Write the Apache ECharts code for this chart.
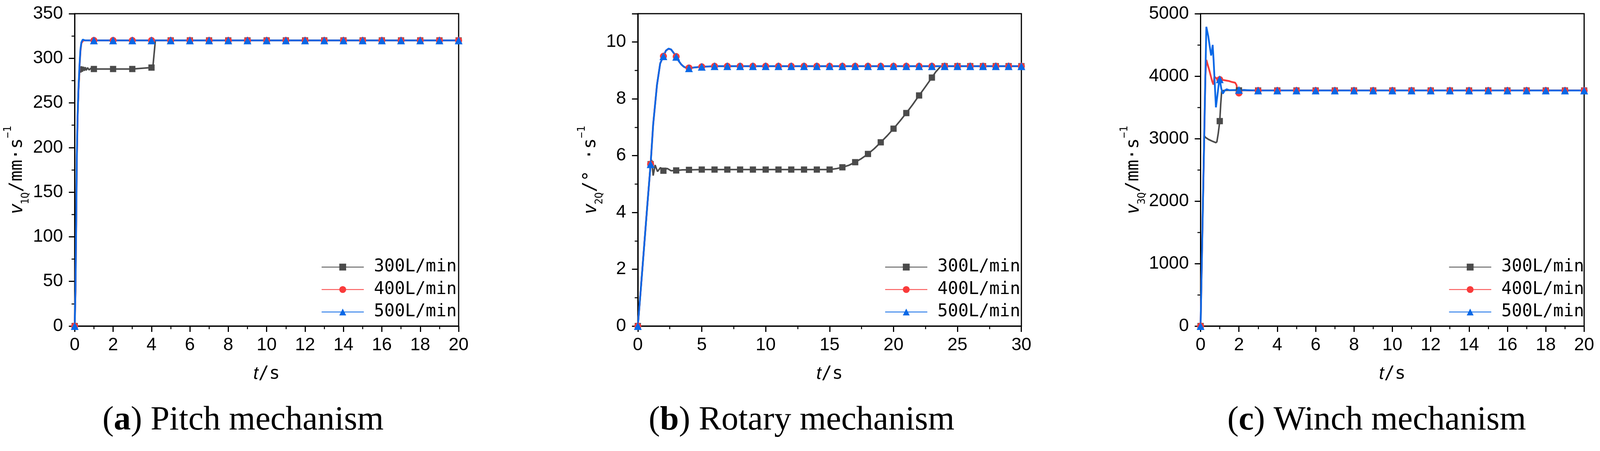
<!DOCTYPE html>
<html>
<head>
<meta charset="utf-8">
<script src="https://cdn.jsdelivr.net/npm/echarts@6/dist/echarts.min.js"></script>
<style>
html, body { margin: 0; padding: 0; background: #fff; overflow: hidden; }
#chart { width: 100vw; height: 1155px; }
</style>
</head>
<body>
<div id="chart"></div>
<script>
var flowNames = ['300L/min', '400L/min', '500L/min'];

// (a) pitch mechanism
var tA300 = [0, 0.04, 0.08, 0.11, 0.15, 0.2, 0.25, 0.28, 0.32, 0.36, 0.4, 0.45, 0.5, 0.55, 0.6, 0.67, 0.75, 0.85, 1, 2, 3, 4, 4.08, 4.2, 4.25, 5, 6, 7, 8, 9, 10, 11, 12, 13, 14, 15, 16, 17, 18, 19, 20];
var vA300 = [0, 38, 115, 185, 232, 265, 283, 291, 284, 291, 285, 290.5, 286, 290, 286.5, 289.5, 287, 288.8, 288, 288, 288, 289.6, 292, 319.5, 320, 320, 320, 320, 320, 320, 320, 320, 320, 320, 320, 320, 320, 320, 320, 320, 320];
var tA400 = [0, 0.04, 0.08, 0.11, 0.15, 0.2, 0.25, 0.3, 0.35, 0.45, 1, 2, 3, 4, 5, 6, 7, 8, 9, 10, 11, 12, 13, 14, 15, 16, 17, 18, 19, 20];
var vA400 = [0, 38, 115, 185, 232, 266, 290, 308, 317, 320, 320, 320, 320, 320, 320, 320, 320, 320, 320, 320, 320, 320, 320, 320, 320, 320, 320, 320, 320, 320];
var tA500 = [0, 0.04, 0.08, 0.11, 0.15, 0.2, 0.25, 0.3, 0.35, 0.42, 0.55, 1, 2, 3, 4, 5, 6, 7, 8, 9, 10, 11, 12, 13, 14, 15, 16, 17, 18, 19, 20];
var vA500 = [0, 40, 120, 190, 235, 268, 292, 310, 318, 321, 320, 320, 320, 320, 320, 320, 320, 320, 320, 320, 320, 320, 320, 320, 320, 320, 320, 320, 320, 320, 320];

// (b) rotary mechanism
var tB300 = [0, 0.25, 0.5, 0.75, 1, 1.08, 1.2, 1.35, 1.54, 1.77, 2, 2.3, 2.6, 3, 3.5, 4, 5, 6, 7, 8, 9, 10, 11, 12, 13, 14, 15, 15.5, 16, 16.5, 17, 17.5, 18, 18.5, 19, 19.5, 20, 20.5, 21, 21.5, 22, 22.5, 23, 23.3, 23.7, 24, 25, 26, 27, 28, 29, 30];
var vB300 = [0, 1.4, 2.85, 4.3, 5.7, 5.85, 5.3, 5.67, 5.44, 5.58, 5.47, 5.55, 5.47, 5.48, 5.5, 5.5, 5.51, 5.51, 5.51, 5.51, 5.51, 5.51, 5.51, 5.51, 5.51, 5.51, 5.51, 5.54, 5.59, 5.66, 5.77, 5.9, 6.06, 6.25, 6.47, 6.7, 6.95, 7.22, 7.5, 7.8, 8.12, 8.43, 8.75, 8.95, 9.15, 9.15, 9.15, 9.15, 9.15, 9.15, 9.15, 9.15];
var tB400 = [0, 0.25, 0.5, 0.75, 1, 1.2, 1.5, 1.75, 2, 2.2, 2.4, 2.6, 2.8, 3, 3.2, 3.4, 3.6, 3.8, 4, 4.5, 5, 5.5, 6, 7, 8, 9, 10, 11, 12, 13, 14, 15, 16, 17, 18, 19, 20, 21, 22, 23, 24, 25, 26, 27, 28, 29, 30];
var vB400 = [0, 1.4, 2.85, 4.3, 5.7, 7.1, 8.5, 9.25, 9.5, 9.7, 9.76, 9.74, 9.62, 9.49, 9.33, 9.21, 9.13, 9.09, 9.09, 9.11, 9.13, 9.14, 9.15, 9.15, 9.15, 9.15, 9.15, 9.15, 9.15, 9.15, 9.15, 9.15, 9.15, 9.15, 9.15, 9.15, 9.15, 9.15, 9.15, 9.15, 9.15, 9.15, 9.15, 9.15, 9.15, 9.15, 9.15];
var tB500 = [0, 0.25, 0.5, 0.75, 1, 1.2, 1.5, 1.75, 2, 2.2, 2.4, 2.6, 2.8, 3, 3.2, 3.4, 3.6, 3.8, 4, 4.5, 5, 5.5, 6, 7, 8, 9, 10, 11, 12, 13, 14, 15, 16, 17, 18, 19, 20, 21, 22, 23, 24, 25, 26, 27, 28, 29, 30];
var vB500 = [0, 1.4, 2.85, 4.3, 5.7, 7.1, 8.5, 9.25, 9.5, 9.7, 9.77, 9.74, 9.62, 9.48, 9.33, 9.21, 9.13, 9.09, 9.08, 9.11, 9.13, 9.14, 9.15, 9.15, 9.15, 9.15, 9.15, 9.15, 9.15, 9.15, 9.15, 9.15, 9.15, 9.15, 9.15, 9.15, 9.15, 9.15, 9.15, 9.15, 9.15, 9.15, 9.15, 9.15, 9.15, 9.15, 9.15];

// (c) winch mechanism
var tC300 = [0, 0.05, 0.1, 0.15, 0.19, 0.25, 0.4, 0.6, 0.8, 0.85, 0.92, 1, 1.05, 1.1, 1.2, 1.5, 2, 3, 4, 5, 6, 7, 8, 9, 10, 11, 12, 13, 14, 15, 16, 17, 18, 19, 20];
var vC300 = [0, 800, 1600, 2400, 3050, 3020, 2990, 2960, 2935, 2950, 3080, 3280, 3550, 3760, 3770, 3775, 3772, 3770, 3770, 3770, 3770, 3770, 3770, 3770, 3770, 3770, 3770, 3770, 3770, 3770, 3770, 3770, 3770, 3770, 3770];
var tC400 = [0, 0.05, 0.1, 0.15, 0.2, 0.25, 0.3, 0.45, 0.6, 0.67, 0.72, 0.76, 0.85, 1, 1.2, 1.5, 1.64, 1.8, 1.87, 1.95, 2, 2.1, 2.25, 2.5, 3, 4, 5, 6, 7, 8, 9, 10, 11, 12, 13, 14, 15, 16, 17, 18, 19, 20];
var vC400 = [0, 800, 1600, 2400, 3200, 4000, 4260, 4100, 3920, 3865, 3990, 3990, 3960, 3945, 3938, 3920, 3906, 3895, 3860, 3740, 3730, 3760, 3780, 3770, 3770, 3770, 3770, 3770, 3770, 3770, 3770, 3770, 3770, 3770, 3770, 3770, 3770, 3770, 3770, 3770, 3770, 3770];
var tC500 = [0, 0.05, 0.1, 0.15, 0.2, 0.25, 0.3, 0.4, 0.5, 0.55, 0.6, 0.63, 0.68, 0.8, 0.9, 0.97, 1, 1.08, 1.16, 1.26, 1.36, 1.5, 2, 3, 4, 5, 6, 7, 8, 9, 10, 11, 12, 13, 14, 15, 16, 17, 18, 19, 20];
var vC500 = [0, 800, 1600, 2400, 3200, 4000, 4790, 4640, 4430, 4330, 4420, 4500, 4250, 3500, 3750, 3930, 3950, 3800, 3720, 3770, 3790, 3775, 3780, 3770, 3770, 3770, 3770, 3770, 3770, 3770, 3770, 3770, 3770, 3770, 3770, 3770, 3770, 3770, 3770, 3770, 3770];

var xMax = [20, 30, 20];
var xStep = [2, 5, 2];
var yMax = [350, 11, 5000];
var yStep = [50, 2, 1000];
var yNames = [
    '{i|v}{sub|1Q}{n|/mm·s}{sup|−1}',
    '{i|v}{sub|2Q}{n|/° ·s}{sup|−1}',
    '{i|v}{sub|3Q}{n|/mm·s}{sup|−1}'
];
var captions = [
    ['a', 'Pitch mechanism'],
    ['b', 'Rotary mechanism'],
    ['c', 'Winch mechanism']
];

// layout measured on a 4134 px wide figure, scaled to the real window width
var sx = (window.innerWidth || 4134) / 4134;
var gridLeft = [193, 1648, 3102];
var gridWidth = [992, 991, 991];
var yNameGap = [113, 80, 130];
var legendLeft = [830, 2286, 3743];
var captionX = [628, 2071, 3557];

var colors = ['#4b4b4b', '#f93b3b', '#0a68e6'];
var symbols = ['rect', 'circle', 'triangle'];
var symbolSizes = [16, 18, 20];
var lineWidths = [4, 4.5, 4.5];

var monoFont = 'DejaVu Sans Mono';
var sansFont = 'Liberation Sans';

function markedData(ts, vs) {
    // marker only on whole seconds, like the original plot
    return ts.map(function (t, i) {
        if (Number.isInteger(t)) return [t, vs[i]];
        return { value: [t, vs[i]], symbol: 'none' };
    });
}

var grids = [], xAxes = [], yAxes = [], legends = [], titles = [];
for (var k = 0; k < 3; k++) {
    grids.push({
        left: gridLeft[k] * sx, top: 35, width: gridWidth[k] * sx, height: 800,
        show: true, borderColor: '#000', borderWidth: 3, backgroundColor: 'transparent'
    });
    var axisCommon = {
        type: 'value',
        gridIndex: k,
        axisLine: { show: true, onZero: false, lineStyle: { color: '#000', width: 3 } },
        axisTick: { show: true, inside: false, length: 15, lineStyle: { color: '#000', width: 3 } },
        minorTick: { show: true, splitNumber: 2, length: 8, lineStyle: { color: '#000', width: 2.5 } },
        splitLine: { show: false },
        minorSplitLine: { show: false }
    };
    xAxes.push(Object.assign({}, axisCommon, {
        min: 0, max: xMax[k], interval: xStep[k],
        axisLabel: { fontFamily: sansFont, fontSize: 46, color: '#000', margin: 26,
            formatter: function (v) { return String(v); } },
        name: '{i|t}{n|/s}',
        nameLocation: 'middle',
        nameGap: 100,
        nameTextStyle: {
            color: '#000',
            rich: {
                i: { fontFamily: sansFont, fontStyle: 'italic', fontSize: 46, lineHeight: 46, color: '#000' },
                n: { fontFamily: monoFont, fontSize: 46, lineHeight: 46, color: '#000' }
            }
        }
    }));
    yAxes.push(Object.assign({}, axisCommon, {
        min: 0, max: yMax[k], interval: yStep[k],
        axisLabel: { fontFamily: sansFont, fontSize: 46, color: '#000', margin: 30, showMaxLabel: k !== 1,
            formatter: function (v) { return String(v); } },
        name: yNames[k],
        nameLocation: 'middle',
        nameRotate: 90,
        nameGap: yNameGap[k] * sx,
        nameTextStyle: {
            color: '#000',
            rich: {
                i: { fontFamily: sansFont, fontStyle: 'italic', fontSize: 48, lineHeight: 71, verticalAlign: 'middle', color: '#000' },
                n: { fontFamily: monoFont, fontSize: 46, lineHeight: 71, verticalAlign: 'middle', color: '#000' },
                sub: { fontFamily: monoFont, fontSize: 26, lineHeight: 26, verticalAlign: 'bottom', color: '#000' },
                sup: { fontFamily: monoFont, fontSize: 26, lineHeight: 26, verticalAlign: 'top', color: '#000' }
            }
        }
    }));
    legends.push({
        orient: 'vertical',
        left: legendLeft[k] * sx,
        top: 662,
        padding: 0,
        itemWidth: 109 * sx,
        itemHeight: 22,
        itemGap: 13.5,
        selectedMode: false,
        textStyle: { fontFamily: monoFont, fontSize: 44, lineHeight: 44, color: '#000', padding: [0, 0, 0, 21] },
        data: flowNames
    });
    titles.push({
        text: '({b|' + captions[k][0] + '}) ' + captions[k][1],
        left: captionX[k] * sx,
        top: 1034,
        textAlign: 'center',
        padding: 0,
        textStyle: {
            fontFamily: 'Liberation Serif', fontSize: 87, lineHeight: 87, fontWeight: 'normal', color: '#000',
            rich: { b: { fontFamily: 'Liberation Serif', fontSize: 87, lineHeight: 87, fontWeight: 'bold', color: '#000' } }
        }
    });
}

var panelData = [
    [[tA300, vA300], [tA400, vA400], [tA500, vA500]],
    [[tB300, vB300], [tB400, vB400], [tB500, vB500]],
    [[tC300, vC300], [tC400, vC400], [tC500, vC500]]
];

var series = [];
panelData.forEach(function (panel, k) {
    panel.forEach(function (pair, s) {
        series.push({
            name: flowNames[s],
            type: 'line',
            xAxisIndex: k,
            yAxisIndex: k,
            data: markedData(pair[0], pair[1]),
            symbol: symbols[s],
            symbolSize: symbolSizes[s],
            showAllSymbol: true,
            color: colors[s],
            lineStyle: { color: colors[s], width: lineWidths[s] },
            itemStyle: { color: colors[s] },
            emphasis: { disabled: true },
            animation: false
        });
    });
});

var chart = echarts.init(document.getElementById('chart'));
chart.setOption({
    backgroundColor: '#fff',
    animation: false,
    title: titles,
    legend: legends,
    grid: grids,
    xAxis: xAxes,
    yAxis: yAxes,
    series: series
});
</script>
</body>
</html>
